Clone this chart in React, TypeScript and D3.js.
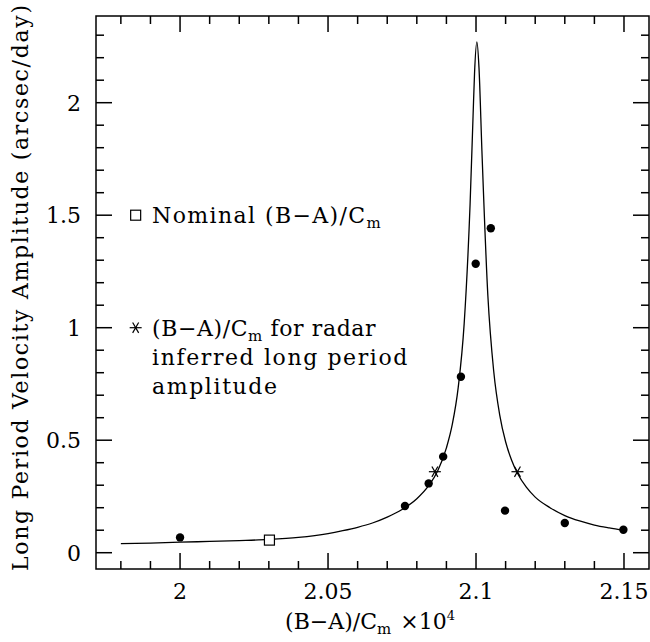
import React from 'react';
import * as d3 from 'd3';

// Model curve
const curveX = [1.98, 1.99, 2.0, 2.01, 2.02, 2.03, 2.04, 2.05, 2.055, 2.06, 2.065, 2.07, 2.075, 2.08, 2.084, 2.087, 2.09, 2.092, 2.094, 2.096, 2.098, 2.099, 2.0995, 2.1003, 2.101, 2.102, 2.104, 2.106, 2.108, 2.11, 2.112, 2.114, 2.117, 2.12, 2.125, 2.13, 2.135, 2.14, 2.145, 2.15];
const curveY = [0.040, 0.043, 0.047, 0.050, 0.054, 0.059, 0.068, 0.085, 0.098, 0.113, 0.132, 0.158, 0.192, 0.240, 0.298, 0.362, 0.466, 0.571, 0.736, 1.018, 1.55, 1.94, 2.13, 2.27, 2.157, 1.784, 1.143, 0.804, 0.613, 0.493, 0.412, 0.353, 0.291, 0.247, 0.200, 0.165, 0.141, 0.123, 0.110, 0.099];

// Filled points
const dotX = [2.0, 2.076, 2.084, 2.0889, 2.0949, 2.0999, 2.105, 2.1098, 2.13, 2.1498];
const dotY = [0.068, 0.2076, 0.308, 0.427, 0.782, 1.284, 1.442, 0.187, 0.132, 0.102];

// Radar-inferred (asterisks)
const starX = [2.0861, 2.114];
const starY = [0.36, 0.36];

// Nominal (open square)
const squareX = [2.0302];
const squareY = [0.056];

const xMajor = [2.0, 2.05, 2.1, 2.15];
const xLabels = ['2', '2.05', '2.1', '2.15'];
const yMajor = [0, 0.5, 1, 1.5, 2];
const yLabels = ['0', '0.5', '1', '1.5', '2'];

const W = 650, H = 642;
const L = 96, R = 649, T = 16, B = 569;
const FONT = "'DejaVu Serif', serif";

function Star({ cx, cy, r }: { cx: number; cy: number; r: number }) {
  const angles = [0, 60, 120];
  return (
    <g stroke="#000" strokeWidth={1.2}>
      {angles.map((a) => {
        const rad = (a * Math.PI) / 180;
        const dx = Math.cos(rad) * r, dy = Math.sin(rad) * r;
        return <line key={a} x1={cx - dx} y1={cy - dy} x2={cx + dx} y2={cy + dy} />;
      })}
    </g>
  );
}

export default function App() {
  const x = d3.scaleLinear().domain([1.9716, 2.15845]).range([L, R]);
  const y = d3.scaleLinear().domain([-0.0724, 2.3853]).range([B, T]);

  const xMinor = d3.range(198, 216).map((v) => v / 100);
  const yMinor = d3.range(0, 24).map((v) => v / 10);
  const isMajorX = (v: number) => xMajor.some((m) => Math.abs(m - v) < 1e-6);
  const isMajorY = (v: number) => yMajor.some((m) => Math.abs(m - v) < 1e-6);

  const pts = curveX.map((v, i) => [v, curveY[i]] as [number, number]);
  const line = d3.line<[number, number]>().x((d) => x(d[0])).y((d) => y(d[1])).curve(d3.curveMonotoneX);

  const legX = x(1.985);
  const fs = 22;

  return (
    <svg width={W} height={H} style={{ position: 'absolute', left: 0, top: 0, background: '#fff' }} fontFamily={FONT}>
      <rect x={0} y={0} width={W} height={H} fill="#fff" />
      {/* ticks */}
      <g stroke="#000" strokeWidth={1.5}>
        {xMinor.map((v) => {
          const len = isMajorX(v) ? 16 : 8;
          const px = x(v);
          return (
            <g key={'xt' + v}>
              <line x1={px} x2={px} y1={B} y2={B - len} />
              <line x1={px} x2={px} y1={T} y2={T + len} />
            </g>
          );
        })}
        {yMinor.map((v) => {
          const len = isMajorY(v) ? 16 : 8;
          const py = y(v);
          return (
            <g key={'yt' + v}>
              <line x1={L} x2={L + len} y1={py} y2={py} />
              <line x1={R} x2={R - len} y1={py} y2={py} />
            </g>
          );
        })}
      </g>
      <rect x={L} y={T} width={R - L} height={B - T} fill="none" stroke="#000" strokeWidth={1.5} />

      {/* tick labels */}
      <g fontSize={fs} fill="#000">
        {xMajor.map((v, i) => (
          <text key={'xl' + i} x={x(v)} y={599} textAnchor="middle">{xLabels[i]}</text>
        ))}
        {yMajor.map((v, i) => (
          <text key={'yl' + i} x={81} y={y(v) + 8} textAnchor="end">{yLabels[i]}</text>
        ))}
      </g>

      {/* axis titles */}
      <text x={370} y={629} fontSize={fs} textAnchor="middle">
        (B−A)/C<tspan fontSize={15} dy={5}>m</tspan><tspan dy={-5} dx={9}>×10</tspan><tspan fontSize={13} dy={-9}>4</tspan>
      </text>
      <text transform={`translate(28,${288}) rotate(-90)`} fontSize={fs} textAnchor="middle" textLength={566} lengthAdjust="spacing">
        Long Period Velocity Amplitude (arcsec/day)
      </text>

      {/* curve */}
      <path d={line(pts) || ''} fill="none" stroke="#000" strokeWidth={1.3} />

      {/* dots */}
      {dotX.map((v, i) => (
        <circle key={'d' + i} cx={x(v)} cy={y(dotY[i])} r={4.2} fill="#000" />
      ))}
      {starX.map((v, i) => (
        <Star key={'s' + i} cx={x(v)} cy={y(starY[i])} r={6} />
      ))}
      {squareX.map((v, i) => (
        <rect key={'q' + i} x={x(v) - 5} y={y(squareY[i]) - 5} width={10} height={10} fill="#fff" stroke="#000" strokeWidth={1.2} />
      ))}

      {/* legend */}
      <rect x={legX - 5} y={y(1.5) - 5} width={10} height={10} fill="none" stroke="#000" strokeWidth={1.2} />
      <text x={152} y={y(1.5) + 8} fontSize={fs} letterSpacing={1.4}>
        Nominal (B−A)/C<tspan fontSize={15} dy={5}>m</tspan>
      </text>
      <Star cx={legX} cy={y(1.0)} r={6} />
      <text x={152} y={y(1.0) + 8} fontSize={fs} letterSpacing={0.6}>
        (B−A)/C<tspan fontSize={15} dy={5}>m</tspan><tspan dy={-5}> for radar</tspan>
      </text>
      <text x={152} y={y(1.0) + 37} fontSize={fs} letterSpacing={1.6}>inferred long period</text>
      <text x={152} y={y(1.0) + 66} fontSize={fs} letterSpacing={1.6}>amplitude</text>
    </svg>
  );
}
